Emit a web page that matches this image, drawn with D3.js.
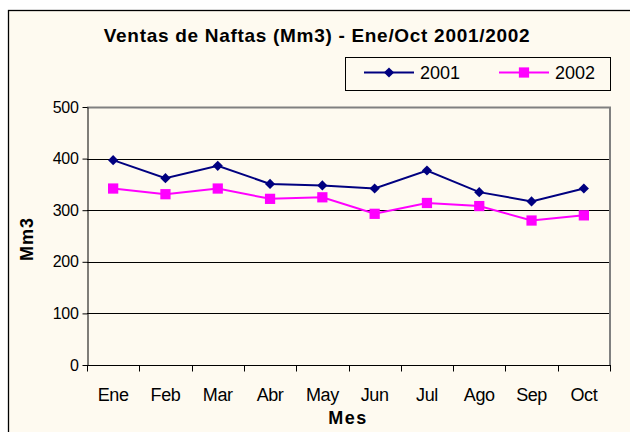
<!DOCTYPE html>
<html lang="es">
<head>
<meta charset="UTF-8">
<title>Ventas de Naftas</title>
<style>
    body { margin: 0; padding: 0; background: #fff; }
    svg { display: block; font-family: Arial, "Liberation Sans", sans-serif; }
    .grid line { stroke: #000; stroke-width: 1px; }
    .axis path, .axis line { stroke: #000; }
    .axis text { fill: #000; }
</style>
</head>
<body>
<svg id="chart" width="630" height="432"></svg>
<script src="https://d3js.org/d3.v7.min.js"></script>
<script>
    const meses = ['Ene', 'Feb', 'Mar', 'Abr', 'May', 'Jun', 'Jul', 'Ago', 'Sep', 'Oct'];
    const ventas2001 = [397, 362, 386, 351, 348, 342, 377, 335, 317, 342];
    const ventas2002 = [342, 331, 342, 322, 325, 293, 314, 308, 280, 290];
    const yTicks = [0, 100, 200, 300, 400, 500];

    const series = [
        { name: '2001', values: ventas2001, color: '#000080', symbol: d3.symbolDiamond2, size: 66 },
        { name: '2002', values: ventas2002, color: '#FF00FF', symbol: d3.symbolSquare, size: 105 }
    ];

    const svg = d3.select('#chart');
    const plot = { left: 87, right: 610, top: 107, bottom: 365 };

    // frame of the chart area (continues past the window)
    svg.append('rect')
        .attr('x', 8.5).attr('y', 10.5)
        .attr('width', 700).attr('height', 500)
        .attr('fill', '#FEFAF0')
        .attr('stroke', '#000').attr('stroke-width', 1.3);

    const x = d3.scaleBand().domain(meses).range([plot.left, plot.right]);
    const y = d3.scaleLinear().domain([0, 500]).range([plot.bottom, plot.top]);

    // title
    svg.append('text')
        .attr('x', 317).attr('y', 42)
        .attr('text-anchor', 'middle')
        .attr('font-weight', 'bold')
        .attr('font-size', 19)
        .attr('letter-spacing', 0.7)
        .text('Ventas de Naftas (Mm3) - Ene/Oct 2001/2002');

    // gridlines
    svg.append('g').attr('class', 'grid')
        .selectAll('line')
        .data(yTicks.filter(d => d > 0 && d < 500))
        .enter().append('line')
        .attr('x1', plot.left).attr('x2', plot.right)
        .attr('y1', d => Math.round(y(d)) + 0.5)
        .attr('y2', d => Math.round(y(d)) + 0.5);

    // plot border, top and right in grey
    svg.append('path')
        .attr('d', `M${plot.left},${plot.top + 0.5}H${plot.right}V${plot.bottom}`)
        .attr('fill', 'none')
        .attr('stroke', '#808080')
        .attr('stroke-width', 2);

    // y axis
    const yAxis = svg.append('g').attr('class', 'axis')
        .attr('transform', `translate(${plot.left + 0.5},0)`)
        .call(d3.axisLeft(y).tickValues(yTicks).tickSize(5).tickPadding(4).tickSizeOuter(0));
    yAxis.selectAll('text').attr('font-size', 16).attr('letter-spacing', -0.3);

    // x axis with ticks between categories
    const xAxis = svg.append('g').attr('class', 'axis')
        .attr('transform', `translate(0,${plot.bottom + 0.5})`);
    xAxis.append('line')
        .attr('x1', plot.left).attr('x2', plot.right + 1)
        .attr('stroke', '#000');
    xAxis.selectAll('.tk')
        .data(meses.concat(['fin']))
        .enter().append('line')
        .attr('class', 'tk')
        .attr('x1', (d, i) => Math.round(plot.left + i * x.bandwidth()) + 0.5)
        .attr('x2', (d, i) => Math.round(plot.left + i * x.bandwidth()) + 0.5)
        .attr('y1', 0).attr('y2', 6)
        .attr('stroke', '#000');
    xAxis.selectAll('.lbl')
        .data(meses)
        .enter().append('text')
        .attr('class', 'lbl')
        .attr('x', d => x(d) + x.bandwidth() / 2)
        .attr('y', 35)
        .attr('text-anchor', 'middle')
        .attr('font-size', 18)
        .attr('letter-spacing', -0.4)
        .text(d => d);

    // axis titles
    svg.append('text')
        .attr('transform', 'translate(33,239) rotate(-90)')
        .attr('text-anchor', 'middle')
        .attr('font-weight', 'bold')
        .attr('font-size', 18)
        .attr('letter-spacing', 1)
        .text('Mm3');
    svg.append('text')
        .attr('x', 348).attr('y', 424)
        .attr('text-anchor', 'middle')
        .attr('font-weight', 'bold')
        .attr('font-size', 18)
        .attr('letter-spacing', 1.5)
        .text('Mes');

    // series
    const line = d3.line()
        .x((d, i) => x(meses[i]) + x.bandwidth() / 2)
        .y(d => y(d));

    series.forEach(s => {
        svg.append('path')
            .datum(s.values)
            .attr('d', line)
            .attr('fill', 'none')
            .attr('stroke', s.color)
            .attr('stroke-width', 2);
        svg.append('g').selectAll('path')
            .data(s.values)
            .enter().append('path')
            .attr('d', d3.symbol().type(s.symbol).size(s.size))
            .attr('transform', (d, i) => `translate(${x(meses[i]) + x.bandwidth() / 2},${y(d)})`)
            .attr('fill', s.color);
    });

    // legend
    const legend = svg.append('g');
    legend.append('rect')
        .attr('x', 345.5).attr('y', 57.5)
        .attr('width', 265).attr('height', 33)
        .attr('fill', '#FEFAF0')
        .attr('stroke', '#000').attr('stroke-width', 1);
    const legendX = [364, 499];
    series.forEach((s, i) => {
        const lx = legendX[i];
        legend.append('line')
            .attr('x1', lx).attr('x2', lx + 50)
            .attr('y1', 72.5).attr('y2', 72.5)
            .attr('stroke', s.color).attr('stroke-width', 2);
        legend.append('path')
            .attr('d', d3.symbol().type(s.symbol).size(s.size))
            .attr('transform', `translate(${lx + 25},72.5)`)
            .attr('fill', s.color);
        legend.append('text')
            .attr('x', lx + 56).attr('y', 79)
            .attr('font-size', 18)
            .text(s.name);
    });
</script>
</body>
</html>
